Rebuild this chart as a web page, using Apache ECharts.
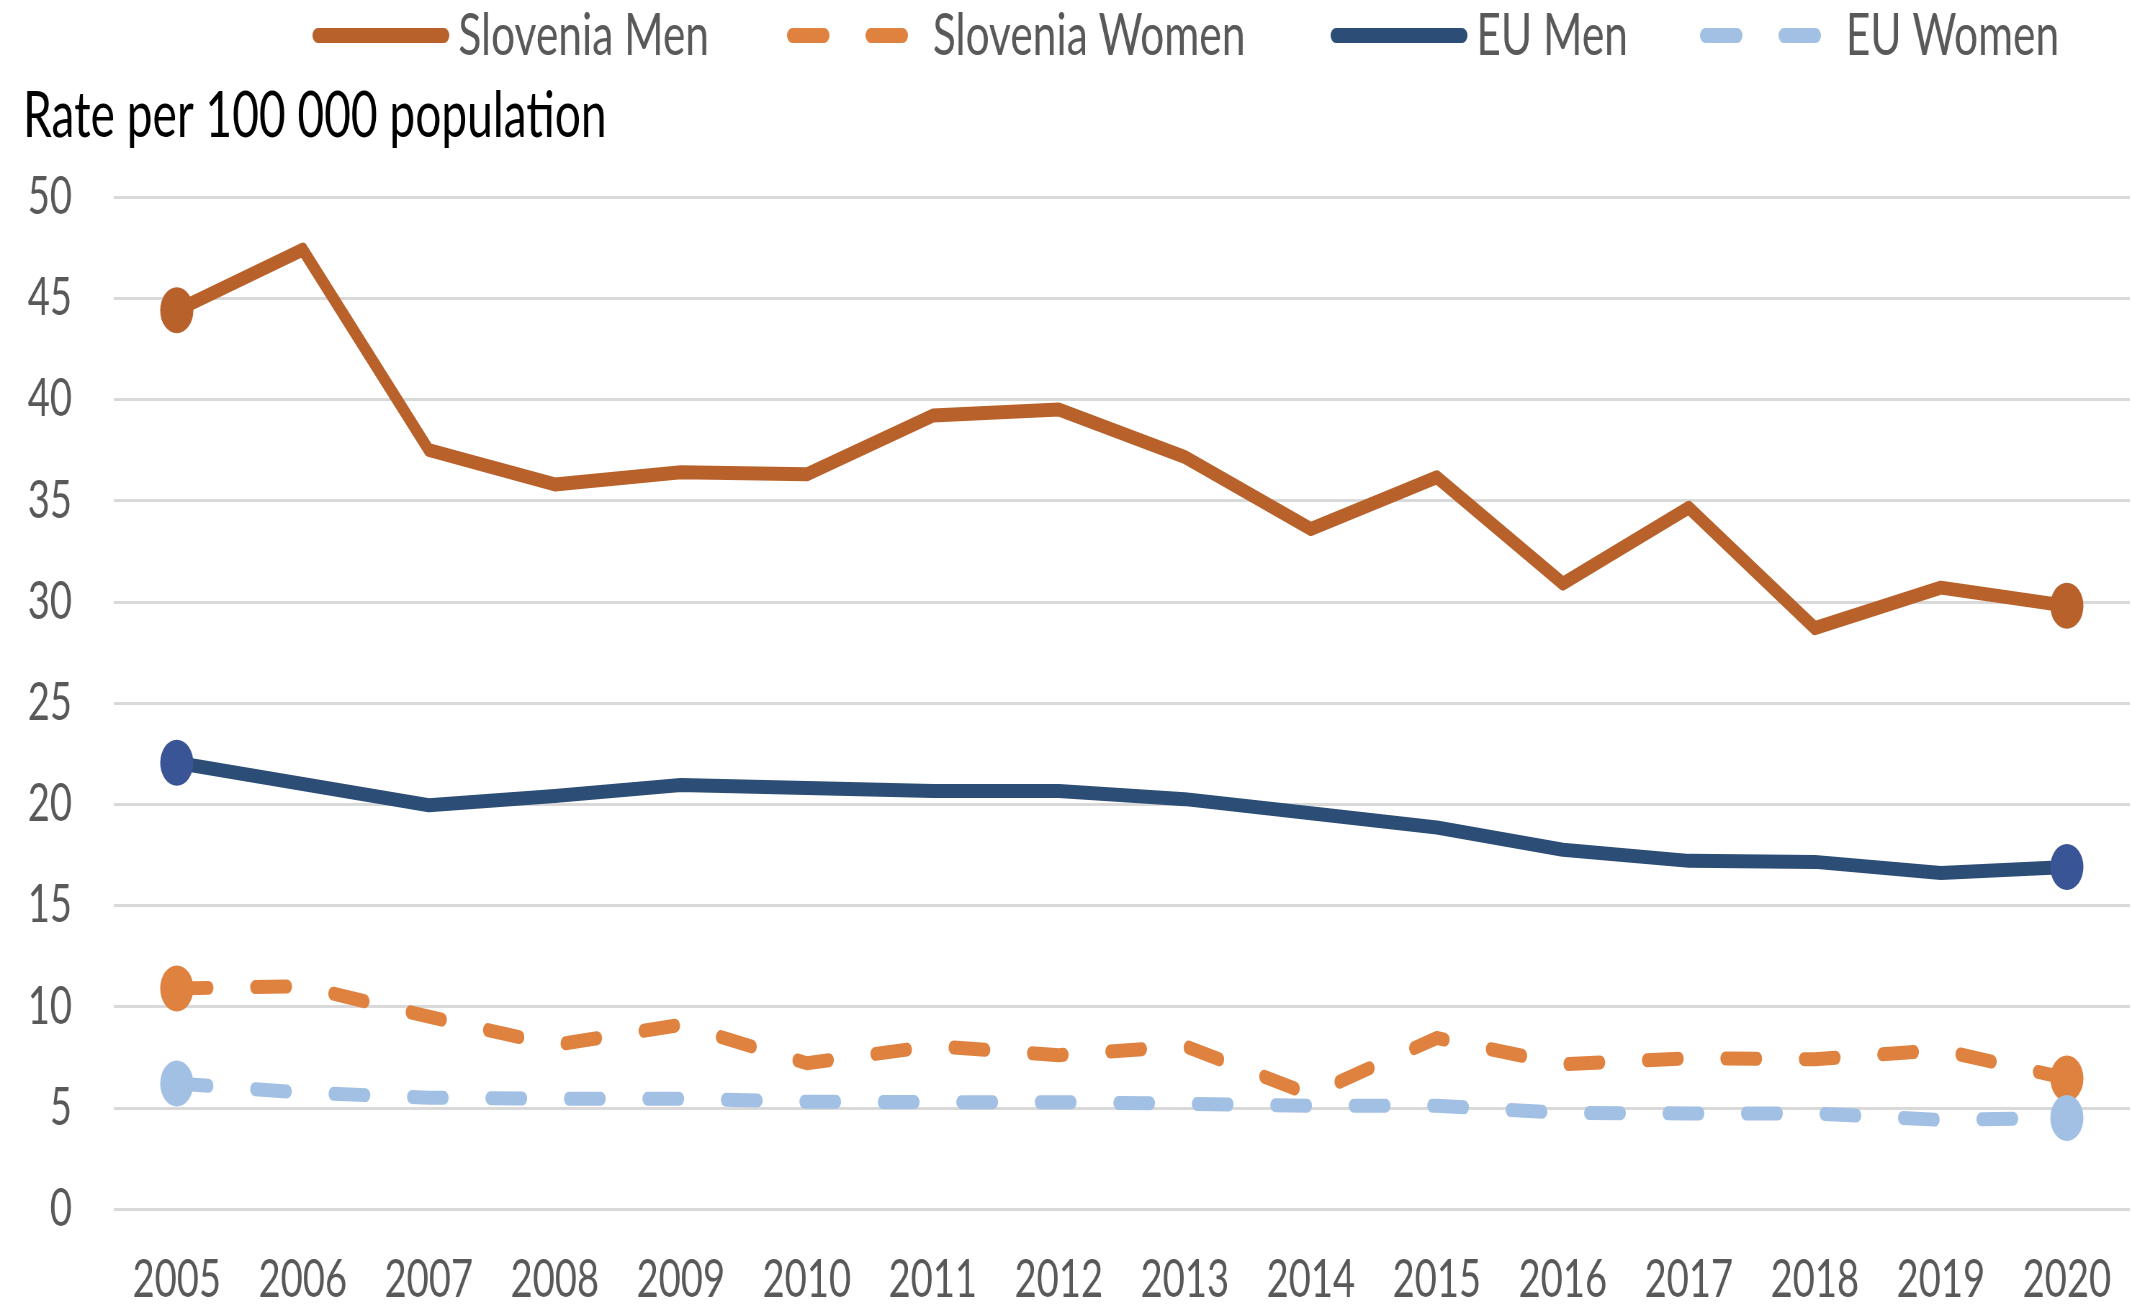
<!DOCTYPE html>
<html>
<head>
<meta charset="utf-8">
<script src="https://cdn.jsdelivr.net/npm/echarts@6/dist/echarts.min.js"></script>
<style>
  html, body { margin: 0; padding: 0; background: #fff; overflow: hidden; }
  #wrap { width: 2132px; height: 1306px; overflow: hidden; }
  /* the original picture is squeezed sideways, so draw wide and squeeze */
  #chart { width: 2961px; height: 1306px; transform: scaleX(0.72003); transform-origin: 0 0; }
</style>
</head>
<body>
<div id="wrap"><div id="chart"></div></div>
<script>
// years on the x axis
const years = ["2005", "2006", "2007", "2008", "2009", "2010", "2011", "2012",
  "2013", "2014", "2015", "2016", "2017", "2018", "2019", "2020"];

// rates per 100 000 population
const sloveniaMen = [44.4, 47.4, 37.5, 35.8, 36.4, 36.3, 39.2, 39.5,
  37.15, 33.6, 36.15, 30.9, 34.65, 28.7, 30.7, 29.8];
const sloveniaWomen = [10.9, 11.0, 9.5, 8.1, 9.1, 7.2, 8.05, 7.6,
  8.05, 5.65, 8.45, 7.15, 7.45, 7.4, 7.85, 6.45];
const euMen = [22.05, 21.0, 19.95, 20.4, 20.95, 20.8, 20.65, 20.65,
  20.25, 19.55, 18.85, 17.75, 17.2, 17.15, 16.6, 16.9];
const euWomen = [6.2, 5.75, 5.5, 5.45, 5.45, 5.3, 5.28, 5.28,
  5.2, 5.1, 5.1, 4.75, 4.72, 4.72, 4.4, 4.5];

const seriesNames = ["Slovenia Men", "Slovenia Women", "EU Men", "EU Women"];

const yTicks = { min: 0, max: 50, step: 5 };

const FONT = "Lato, 'Open Sans', sans-serif";
const LINE_W = 14;
const DASH = [44, 65];

// where each legend entry starts (pre-squeeze px)
const legendLeft = [434, 1093, 1848, 2361];

// only the first and last point get a marker
function withEndMarkers(values, markerColor) {
  return values.map((v, i) => {
    if (i === 0 || i === values.length - 1) {
      return {
        value: v,
        symbol: "circle",
        symbolSize: 46,
        itemStyle: { color: markerColor },
      };
    }
    return v;
  });
}

function makeSeries(name, values, color, markerColor, dashed) {
  return {
    name: name,
    type: "line",
    data: withEndMarkers(values, markerColor),
    symbol: "none",
    showSymbol: true,
    z: dashed ? 2 : 3,
    itemStyle: { color: color },
    lineStyle: {
      color: color,
      width: LINE_W,
      type: dashed ? DASH : "solid",
      cap: "round",
      join: "round",
    },
  };
}

const myChart = echarts.init(document.getElementById("chart"));
const option = {
  animation: false,
  backgroundColor: "#ffffff",
  title: {
    text: "Rate per 100 000 population",
    left: 32,
    top: 84,
    padding: 0,
    textStyle: {
      fontFamily: FONT,
      fontSize: 64,
      fontWeight: "normal",
      color: "#000000",
    },
  },
  legend: seriesNames.map((name, i) => ({
    data: [name],
    left: legendLeft[i],
    top: 6,
    padding: 0,
    itemWidth: 175,
    itemHeight: 16,
    itemStyle: { opacity: 0 },
    lineStyle: { width: 15, cap: "round" },
    textStyle: {
      fontFamily: FONT,
      fontSize: 59,
      color: "#595959",
      padding: [0, 0, 0, 15],
    },
  })),
  grid: {
    left: 158,
    right: 3,
    top: 197,
    bottom: 94,
    containLabel: false,
  },
  xAxis: {
    type: "category",
    data: years,
    boundaryGap: true,
    axisLine: { show: false },
    axisTick: { show: false },
    axisLabel: {
      interval: 0,
      margin: 44,
      fontFamily: FONT,
      fontSize: 53,
      color: "#595959",
    },
  },
  yAxis: {
    type: "value",
    min: yTicks.min,
    max: yTicks.max,
    interval: yTicks.step,
    axisLine: { show: false },
    axisTick: { show: false },
    axisLabel: {
      margin: 58,
      fontFamily: FONT,
      fontSize: 53,
      color: "#595959",
    },
    splitLine: {
      lineStyle: { color: "#d9d9d9", width: 3 },
    },
  },
  series: [
    makeSeries(seriesNames[0], sloveniaMen, "#b8612a", "#b8612a", false),
    makeSeries(seriesNames[1], sloveniaWomen, "#e0823f", "#e0823f", true),
    makeSeries(seriesNames[2], euMen, "#2c4d75", "#3a5595", false),
    makeSeries(seriesNames[3], euWomen, "#a2c0e3", "#a2c0e3", true),
  ],
};
myChart.setOption(option);
</script>
</body>
</html>
